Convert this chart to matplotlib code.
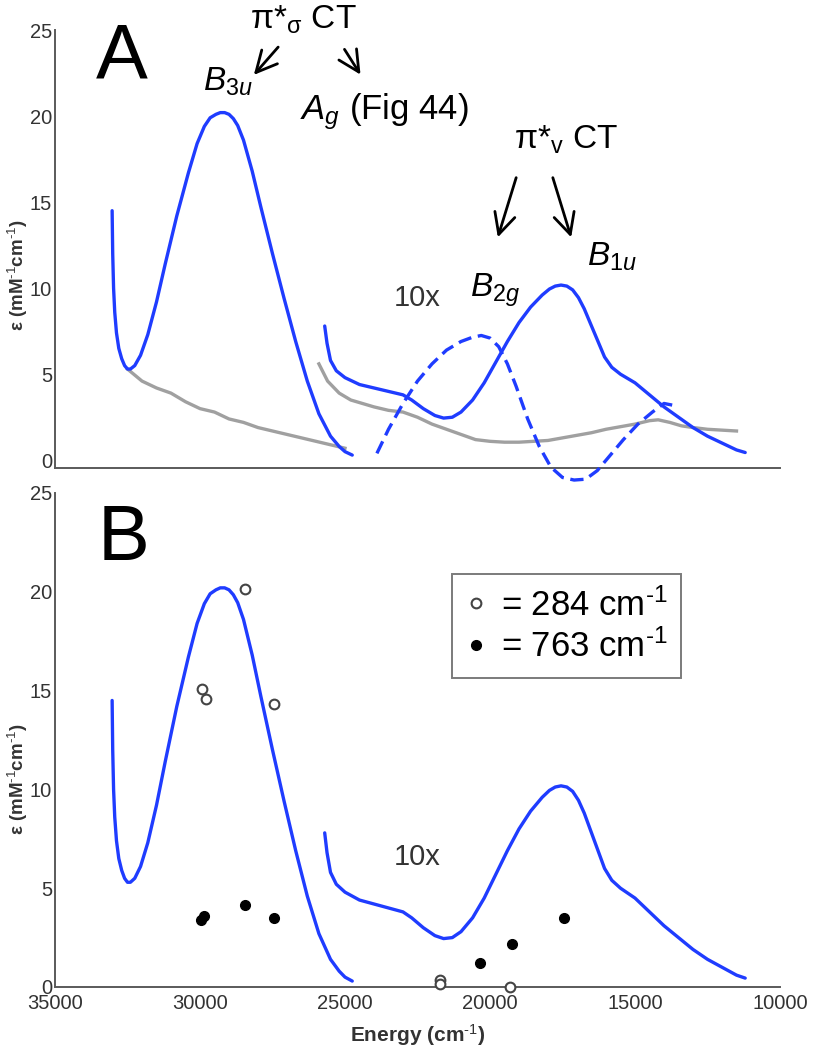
import matplotlib
matplotlib.use("Agg")
import matplotlib.pyplot as plt
from matplotlib.lines import Line2D
from matplotlib.patches import FancyArrowPatch

plt.rcParams['font.family'] = ['Liberation Sans', 'DejaVu Sans']
plt.rcParams['mathtext.fontset'] = 'custom'
plt.rcParams['mathtext.rm'] = 'Liberation Sans'
plt.rcParams['mathtext.it'] = 'Liberation Sans:italic'
plt.rcParams['mathtext.bf'] = 'Liberation Sans:bold'

# ---------------- data ----------------
# UV band (B3u), full scale
uv_energy = [33030, 33010, 32980, 32940, 32880, 32800, 32700, 32600, 32500, 32400,
             32250, 32050, 31800, 31500, 31200, 30800, 30400, 30100, 29850, 29650,
             29450, 29300, 29150, 29000, 28850, 28700, 28500, 28200,
             27900, 27500, 27100, 26700, 26300, 25900, 25500, 25200, 25000, 24750]
uv_eps = [14.5, 12.0, 10.0, 8.6, 7.4, 6.5, 5.9, 5.5, 5.3, 5.3,
          5.5, 6.1, 7.3, 9.2, 11.4, 14.2, 16.7, 18.4, 19.4, 19.9,
          20.1, 20.2, 20.2, 20.1, 19.85, 19.45, 18.6, 16.8,
          14.7, 12.0, 9.4, 6.9, 4.6, 2.7, 1.4, 0.8, 0.5, 0.3]

# visible bands, 10x scaled
vis_energy = [25700, 25620, 25500, 25300, 25000, 24500, 24000, 23500, 23000, 22700,
              22300, 21900, 21600, 21300, 21000, 20600, 20200, 19800, 19400, 19000,
              18600, 18200, 17950, 17750, 17550, 17350, 17150, 16950, 16750, 16550,
              16300, 16050, 15800, 15500, 15000, 14500, 14000, 13500, 13000, 12500,
              12000, 11500, 11200]
vis_eps = [7.8, 6.8, 5.8, 5.2, 4.8, 4.4, 4.2, 4.0, 3.8, 3.5,
           3.0, 2.6, 2.45, 2.5, 2.8, 3.5, 4.5, 5.7, 6.9, 8.0,
           8.9, 9.6, 9.95, 10.12, 10.18, 10.12, 9.9, 9.45, 8.8, 8.0,
           7.0, 6.0, 5.4, 5.0, 4.5, 3.8, 3.1, 2.5, 1.9, 1.4,
           1.0, 0.6, 0.45]

# difference (dashed) curve, 10x
diff_energy = [23900, 23500, 23000, 22500, 22000, 21500, 21000, 20600, 20300, 20000,
               19700, 19400, 19100, 18700, 18300, 17900, 17500, 17100, 16700, 16300,
               15900, 15400, 14900, 14400, 14000, 13700]
diff_eps = [0.4, 1.8, 3.3, 4.6, 5.6, 6.4, 6.9, 7.15, 7.25, 7.1,
            6.6, 5.6, 4.3, 2.4, 0.8, -0.4, -1.0, -1.15, -1.1, -0.6,
            0.2, 1.2, 2.1, 2.8, 3.3, 3.2]

# gray reference spectra
gray1_energy = [32500, 32000, 31500, 31000, 30500, 30000, 29500, 29000, 28500, 28000,
                27500, 27000, 26500, 26000, 25500, 25000]
gray1_eps = [5.3, 4.6, 4.2, 3.9, 3.4, 3.0, 2.8, 2.4, 2.2, 1.9,
             1.7, 1.5, 1.3, 1.1, 0.9, 0.7]
gray2_energy = [25900, 25600, 25200, 24800, 24400, 24000, 23500, 23000, 22500, 22000,
                21500, 21000, 20500, 20000, 19500, 19000, 18500, 18000, 17500, 17000,
                16500, 16000, 15500, 15000, 14500, 14200, 13800, 13400, 13000, 12500,
                12000, 11500]
gray2_eps = [5.6, 4.6, 3.9, 3.5, 3.3, 3.1, 2.9, 2.8, 2.5, 2.1,
             1.8, 1.5, 1.2, 1.1, 1.05, 1.05, 1.1, 1.15, 1.3, 1.45,
             1.6, 1.8, 1.95, 2.1, 2.3, 2.35, 2.2, 2.0, 1.9, 1.8,
             1.75, 1.7]

# resonance Raman profiles
open_energy = [28450, 29930, 29800, 27450, 21720, 21720, 19310]
open_eps = [20.15, 15.1, 14.6, 14.3, 0.35, 0.15, 0.02]
fill_energy = [29950, 29850, 28450, 27450, 20345, 19240, 17450]
fill_eps = [3.4, 3.6, 4.15, 3.5, 1.2, 2.2, 3.5]

legend_labels = ['= 284 cm$^{\\text{-1}}$', '= 763 cm$^{\\text{-1}}$']
yticks = [0, 5, 10, 15, 20, 25]
xticks = [35000, 30000, 25000, 20000, 15000, 10000]

# ---------------- figure ----------------
W, H = 819, 1050
fig = plt.figure(figsize=(W / 100, H / 100), dpi=100)


def P(x, y):
    return (x / W, 1 - y / H)


BLUE = '#1f3cff'
GRAY = '#a0a0a0'
SPINE = '#5a5a5a'
TXT = '#333333'

axA = fig.add_axes([55 / W, 1 - 468 / H, 725 / W, (468 - 30) / H])
axB = fig.add_axes([55 / W, 1 - 987 / H, 725 / W, (987 - 493) / H])

for ax in (axA, axB):
    ax.set_xlim(35000, 10000)
    for s in ('top', 'right'):
        ax.spines[s].set_visible(False)
    for s in ('left', 'bottom'):
        ax.spines[s].set_color(SPINE)
        ax.spines[s].set_linewidth(1.4)
    ax.set_yticks(yticks)
    ax.tick_params(axis='both', length=0, labelsize=14.5, labelcolor=TXT)
    ax.tick_params(axis='y', pad=2)
    ax.tick_params(axis='x', pad=5)
    ax.plot(uv_energy, uv_eps, color=BLUE, lw=2.4, solid_capstyle='round',
            solid_joinstyle='round', zorder=3)
    ax.plot(vis_energy, vis_eps, color=BLUE, lw=2.4, solid_capstyle='round',
            solid_joinstyle='round', zorder=3)
    ax.set_ylabel('ε (mM$^{\\text{-1}}$cm$^{\\text{-1}}$)', fontsize=13.5,
                  fontweight='bold', color=TXT)

axA.set_ylim(-0.45, 25)
axA.set_xticks([])
axA.yaxis.set_label_coords(-0.035, 0.44)
axA.plot(gray1_energy, gray1_eps, color=GRAY, lw=2.4, zorder=2)
axA.plot(gray2_energy, gray2_eps, color=GRAY, lw=2.4, zorder=2)
axA.plot(diff_energy, diff_eps, color=BLUE, lw=2.4, ls=(0, (4, 2)), zorder=3,
         clip_on=False)

axB.set_ylim(0, 25)
axB.set_xticks(xticks)
axB.set_xticklabels([str(t) for t in xticks])
axB.yaxis.set_label_coords(-0.035, 0.42)
axB.set_xlabel('Energy (cm$^{\\text{-1}}$)', fontsize=15, fontweight='bold', color=TXT)
axB.xaxis.set_label_coords(0.5, -0.072)
axB.plot(open_energy, open_eps, ls='none', marker='o', ms=7, mfc='white',
         mec='#444444', mew=1.5, clip_on=False, zorder=4)
axB.plot(fill_energy, fill_eps, ls='none', marker='o', ms=7, mfc='black',
         mec='black', clip_on=False, zorder=4)

handles = [Line2D([], [], ls='none', marker='o', ms=7, mfc='white', mec='#444444', mew=1.5),
           Line2D([], [], ls='none', marker='o', ms=7, mfc='black', mec='black')]
leg = axB.legend(handles, legend_labels,
                 loc='upper left', bbox_to_anchor=P(452, 574),
                 bbox_transform=fig.transFigure, borderaxespad=0,
                 fontsize=25, frameon=True, fancybox=False, handlelength=0.6,
                 handletextpad=0.4, labelspacing=0.2, borderpad=0.4)
leg.get_frame().set_edgecolor(SPINE)
leg.get_frame().set_linewidth(1.4)

# panel letters
fig.text(*P(122, 58), 'A', fontsize=56, ha='center', va='center')
fig.text(*P(124, 540), 'B', fontsize=56, ha='center', va='center')

# annotations
ANN = 24
fig.text(*P(303, 20), 'π*$_{\\mathrm{σ}}$ CT', fontsize=ANN, ha='center', va='center')
fig.text(*P(203, 82), '$\\mathit{B}_{\\mathit{3u}}$', fontsize=ANN, ha='left', va='center')
fig.text(*P(300, 112), '$\\mathit{A}_{\\mathit{g}}$ (Fig 44)', fontsize=25, ha='left', va='center')
fig.text(*P(566, 140), 'π*$_{\\mathrm{v}}$ CT', fontsize=ANN, ha='center', va='center')
fig.text(*P(470, 290), '$\\mathit{B}_{\\mathit{2g}}$', fontsize=ANN, ha='left', va='center')
fig.text(*P(587, 257), '$\\mathit{B}_{\\mathit{1u}}$', fontsize=ANN, ha='left', va='center')
fig.text(*P(417, 298), '10x', fontsize=21, ha='center', va='center', color=TXT)
fig.text(*P(417, 857), '10x', fontsize=21, ha='center', va='center', color=TXT)

arrows = [((280, 45), (252, 77)), ((343, 47), (362, 77)),
          ((517, 175), (497, 240)), ((552, 175), (572, 240))]
for (x0, y0), (x1, y1) in arrows:
    fig.add_artist(FancyArrowPatch(
        P(x0, y0), P(x1, y1), transform=fig.transFigure,
        arrowstyle='->,head_length=0.5,head_width=0.25', mutation_scale=30,
        lw=2.0, color='black'))

fig.savefig('out.png', dpi=100)
